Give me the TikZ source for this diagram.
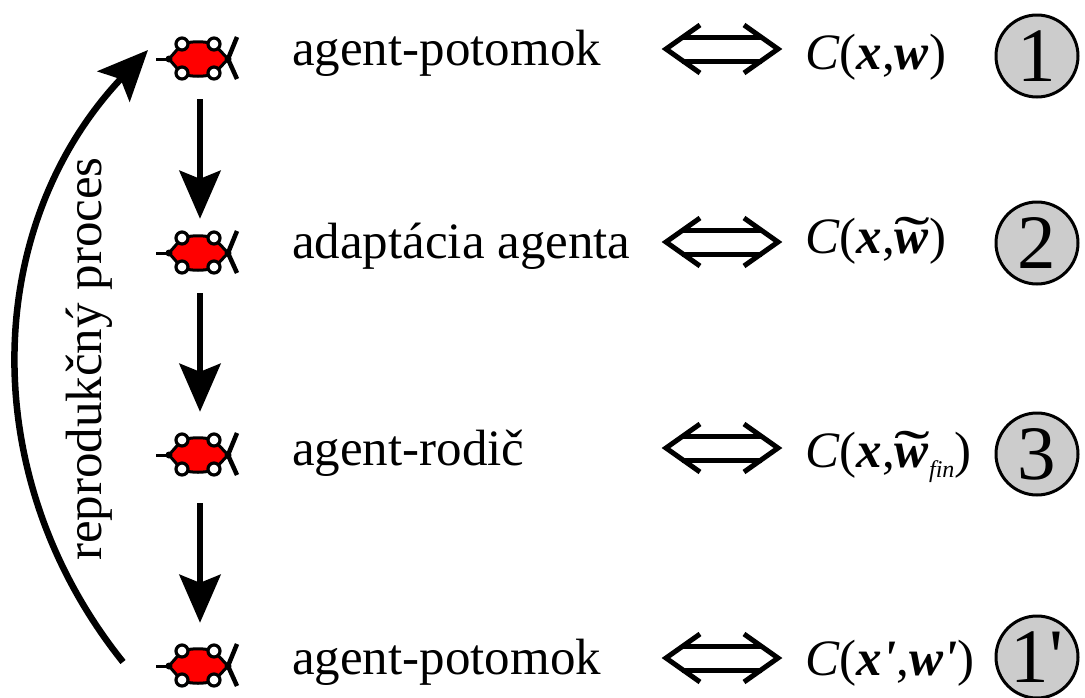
\documentclass[tikz,border=0pt]{standalone}
\usepackage{fontspec}
\setmainfont{Liberation Serif}
\usetikzlibrary{arrows.meta,positioning}
\newcommand{\bfx}{\textbf{\textit{x}}}
\newcommand{\bfw}{\textbf{\textit{w}}}
\newcommand{\bfprime}{\textbf{\textit{\textquotesingle}}}
\newcommand{\bfwacc}{\ooalign{\bfw\cr\hidewidth\raisebox{-.11em}{\scalebox{2.1}[1.2]{˜}}\hidewidth\cr}}
\tikzset{%
agentbox/.style={minimum width=88pt, minimum height=68pt, inner sep=0pt},
lab/.style={anchor=base west, inner sep=0pt, font=\fontsize{51}{55}\selectfont},
numnode/.style={circle, draw=black, line width=3pt, fill=black!20, minimum size=82pt, inner sep=0pt, font=\fontsize{77}{80}\selectfont},
fw/.style={line width=6.5pt, -{Stealth[length=48pt,width=41pt,inset=8pt]}},
repro/.style={line width=6.5pt, -{Stealth[length=50pt,width=44pt,inset=10pt]}},
pics/agent/.style={code={
	\draw[line width=3pt] (-44,0) -- (-31,0);
	\draw[line width=3pt, fill=red] (-31,0) -- (-18,-15) .. controls (-8,-18) and (4,-18) .. (14,-15) -- (28,0) -- (14,15) .. controls (4,18) and (-8,18) .. (-18,15) -- cycle;
	\fill (-31,0) circle (3.5) (28,0) circle (3.5);
	\draw[line width=3.2pt, fill=white] (-18,-15) circle (6) (14,-15) circle (6) (-18,14) circle (6) (14,14) circle (6);
	\draw[line width=4.5pt] (37,-22) -- (28,0) -- (37,20);
}},
pics/iff/.style={code={
	\draw[line width=5pt] (-40,-12) -- (40,-12) (-40,12) -- (40,12);
	\draw[line width=5pt] (-22,-24) -- (-56,0) -- (-22,24);
	\draw[line width=5pt] (22,-24) -- (56,0) -- (22,24);
}}
}
\begin{document}
\begin{tikzpicture}[x=1pt,y=-1pt]
	\useasboundingbox (0,0) rectangle (1085,697);
	\node[agentbox] (childone) at (200,59) {};
	\node[agentbox] (adapted) at (200,253) {};
	\node[agentbox] (parent) at (200,455) {};
	\node[agentbox] (childtwo) at (200,666) {};
	\foreach \n in {childone,adapted,parent,childtwo} \pic at (\n) {agent};

	\node[lab] (labone) at (292,65) {agent-potomok};
	\node[lab] (labtwo) at (292,258) {adaptácia agenta};
	\node[lab] (labthree) at (292,465) {agent-rodič};
	\node[lab] (labfour) at (292,674) {agent-potomok};

	\pic at (722,49) {iff};
	\pic at (722,242) {iff};
	\pic at (722,448) {iff};
	\pic at (722,658) {iff};

	\node[lab] (forone) at (805,69) {\textit{C}(\bfx,\bfw)};
	\node[lab] (fortwo) at (805,253) {\textit{C}(\bfx,\bfwacc)};
	\node[lab] (forthree) at (805,467) {\textit{C}(\bfx,\bfwacc\raisebox{-.2em}{\fontsize{24}{24}\selectfont\textit{fin}})};
	\node[lab] (forfour) at (805,675) {\textit{C}(\bfx\bfprime,\bfw\bfprime)};

	\node[numnode] (numone) at (1037,56) {1};
	\node[numnode] (numtwo) at (1037,243) {2};
	\node[numnode] (numthree) at (1037,454) {3};
	\node[numnode] (numfour) at (1037,657) {1\textquotesingle};

	\coordinate (reprostart) at (123,662);
	\coordinate (reproend) at (148,50);

	\draw[fw, shorten <=6pt] (childone) -- (adapted);
	\draw[fw, shorten <=6pt, shorten >=9pt] (adapted) -- (parent);
	\draw[fw, shorten <=14pt, shorten >=9pt] (parent) -- (childtwo);
	\draw[repro] (reprostart) to [bend left=41] (reproend);
	\node[lab, rotate=90] (reprolab) at (101,561) {reprodukčný proces};
\end{tikzpicture}
\end{document}
